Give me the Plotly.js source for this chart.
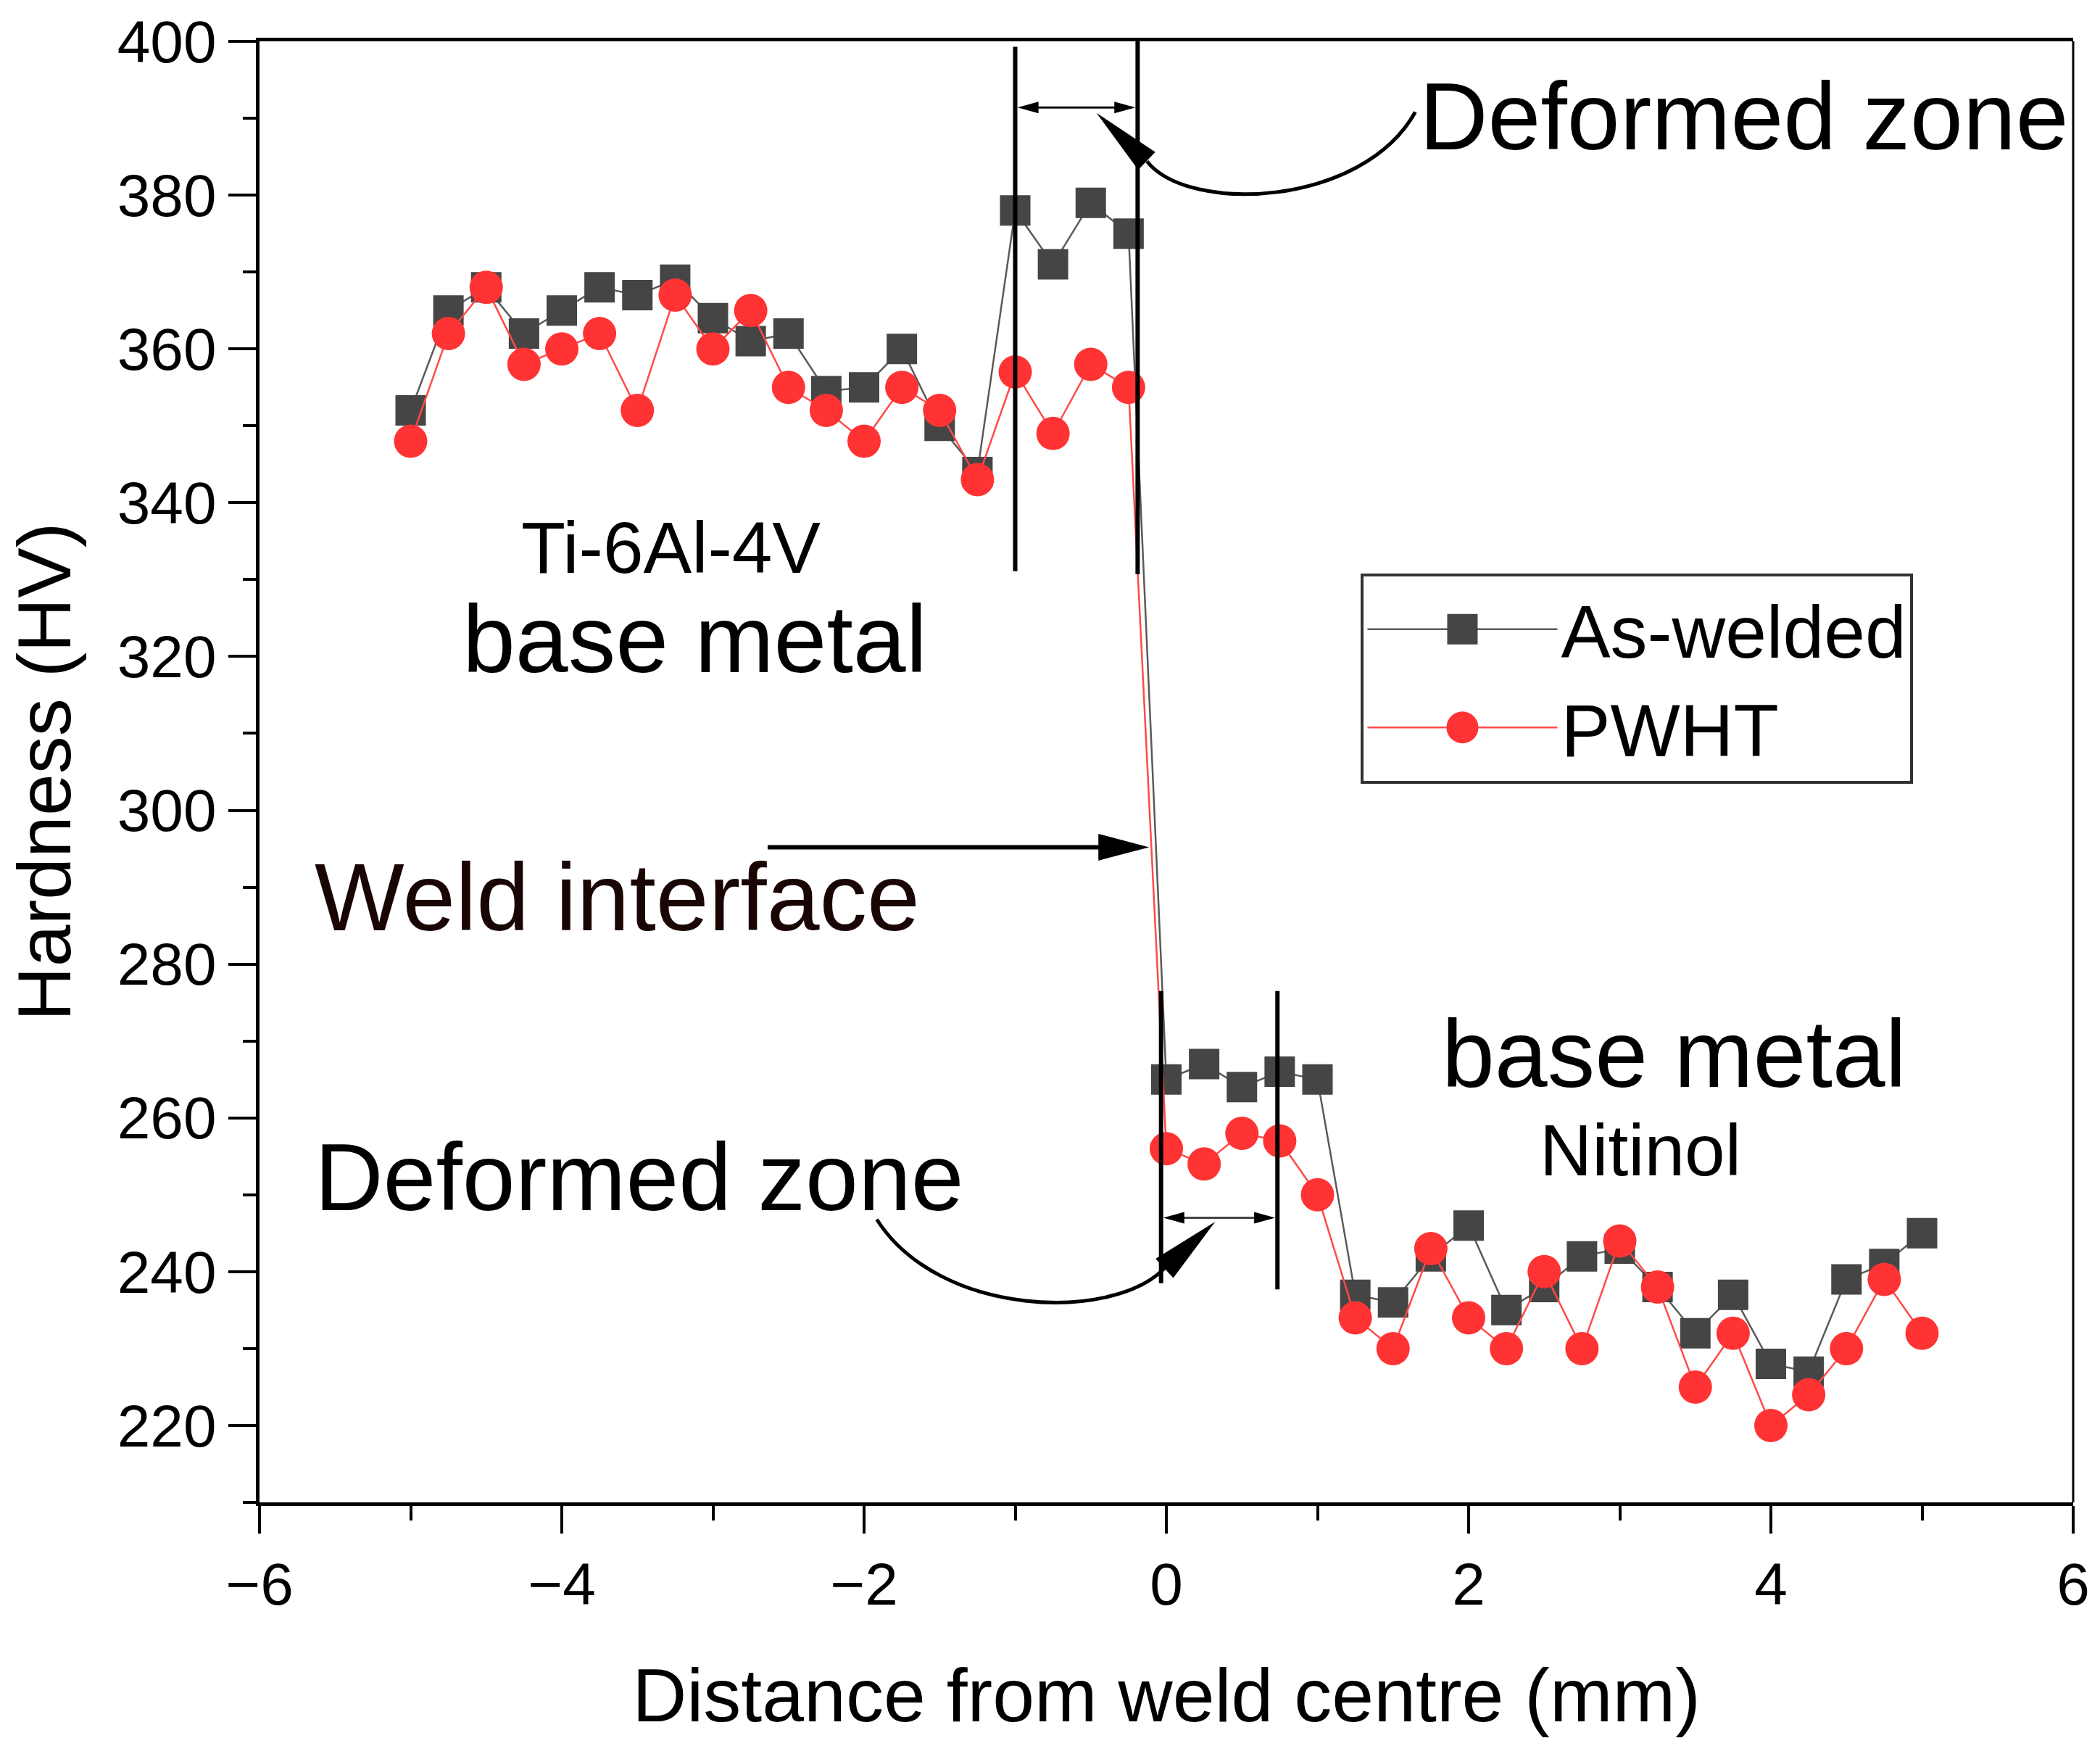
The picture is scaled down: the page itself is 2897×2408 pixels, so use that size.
<!DOCTYPE html>
<html>
<head>
<meta charset="utf-8">
<script src="https://cdn.plot.ly/plotly-3.0.1.min.js"></script>
<style>
html,body{margin:0;padding:0;background:#ffffff;}
#chart{width:2897px;height:2408px;}
</style>
</head>
<body>
<div id="chart"></div>
<script>
// ---------------- data ----------------
const distance = [-5, -4.75, -4.5, -4.25, -4, -3.75, -3.5, -3.25, -3, -2.75, -2.5, -2.25, -2, -1.75, -1.5, -1.25, -1, -0.75, -0.5, -0.25,
                  0, 0.25, 0.5, 0.75, 1, 1.25, 1.5, 1.75, 2, 2.25, 2.5, 2.75, 3, 3.25, 3.5, 3.75, 4, 4.25, 4.5, 4.75, 5];
const asWelded = [352, 365, 368, 362, 365, 368, 367, 369, 364, 361, 362, 354.5, 355, 360, 350, 344, 378, 371, 379, 375,
                  265, 267, 264, 266, 265, 237, 236, 242, 246, 235, 238, 242, 243, 238, 232, 237, 228, 227, 239, 241, 245];
const pwht     = [348, 362, 368, 358, 360, 362, 352, 367, 360, 365, 355, 352, 348, 355, 352, 343, 357, 349, 358, 355,
                  256, 254, 258, 257, 250, 234, 230, 243, 234, 230, 240, 230, 244, 238, 225, 232, 220, 224, 230, 239, 232];
const seriesNames = ["As-welded", "PWHT"];
const xTickVals = [-6, -4, -2, 0, 2, 4, 6];
const yTickVals = [220, 240, 260, 280, 300, 320, 340, 360, 380, 400];
const xTitle = "Distance from weld centre (mm)";
const yTitle = "Hardness (HV)";

// ---------------- layout geometry ----------------
const W = 2897, H = 2408;
const M = {l: 358, r: 37, t: 57, b: 336};
const xRange = [-6, 6], yRange = [210, 400];
const sx = (W - M.l - M.r) / (xRange[1] - xRange[0]);
const sy = (H - M.t - M.b) / (yRange[1] - yRange[0]);
const FONT = "Liberation Sans, Arial, sans-serif";

// arrowhead triangle (tip + direction from tail), size in px, expressed in data coords
function headPath(tip, tail, len, wid) {
  const dxp = (tip[0] - tail[0]) * sx, dyp = -(tip[1] - tail[1]) * sy;
  const L = Math.hypot(dxp, dyp), ux = dxp / L, uy = dyp / L;
  const bx = -len * ux, by = -len * uy, px = -uy, py = ux;
  const toD = (ox, oy) => (tip[0] + ox / sx) + "," + (tip[1] - oy / sy);
  return "M" + toD(0, 0) + " L" + toD(bx + px * wid / 2, by + py * wid / 2) +
         " L" + toD(bx - px * wid / 2, by - py * wid / 2) + " Z";
}
function head(tip, tail, len, wid, color) {
  return {type: "path", xref: "x", yref: "y", path: headPath(tip, tail, len, wid),
          fillcolor: color || "#000", line: {width: 0}, layer: "above"};
}
function vline(x, y0, y1, w, c) {
  return {type: "line", xref: "x", yref: "y", x0: x, x1: x, y0: y0, y1: y1,
          line: {color: c || "#000", width: w || 6}, layer: "above"};
}
function hline(x0, x1, y, w, c) {
  return {type: "line", xref: "x", yref: "y", x0: x0, x1: x1, y0: y, y1: y,
          line: {color: c || "#000", width: w || 3}, layer: "above"};
}

const shapes = [
  // zone boundary lines
  vline(-1.0, 399.3, 331.1), vline(-0.19, 400, 330.7),
  vline(-0.035, 276.5, 238.5), vline(0.735, 276.5, 237.7),
  // top double arrow
  hline(-0.95, -0.23, 391.4, 3, "#111"),
  head([-0.985, 391.4], [-0.5, 391.4], 29, 16), head([-0.205, 391.4], [-0.5, 391.4], 29, 16),
  // bottom double arrow
  hline(-0.0, 0.70, 247.0, 3, "#444"),
  head([-0.02, 247.0], [0.4, 247.0], 29, 16), head([0.72, 247.0], [0.4, 247.0], 29, 16),
  // weld interface arrow
  hline(-2.638, -0.40, 295.2, 6, "#000"),
  head([-0.114, 295.2], [-1.0, 295.2], 70, 37),
  // top curved arrow
  {type: "path", xref: "x", yref: "y", path: "M1.647,390.8 C1.3,378.5 0.15,377.5 -0.128,384.4",
   line: {color: "#000", width: 5}, layer: "above"},
  head([-0.462, 390.7], [-0.128, 384.4], 96, 34),
  // bottom curved arrow
  {type: "path", xref: "x", yref: "y", path: "M-1.916,246.8 C-1.5,234 -0.35,233.5 -0.012,240.45",
   line: {color: "#000", width: 5}, layer: "above"},
  head([0.323, 246.5], [-0.012, 240.45], 95, 36),
  // right frame line
  {type: "line", xref: "paper", yref: "paper", x0: 1, x1: 1, y0: 0, y1: 1,
   line: {color: "#000", width: 3}, layer: "above"}
];

function ann(text, x, y, size, color) {
  return {text: text, x: x, y: y, xref: "x", yref: "y", showarrow: false,
          xanchor: "center", yanchor: "middle", borderpad: 0, borderwidth: 0,
          font: {family: FONT, size: size, color: color || "#000"}};
}
const annotations = [
  ann("Deformed zone", 3.824, 390.2, 131),
  ann("Ti-6Al-4V", -3.280, 334.2, 100),
  ann("base metal", -3.122, 322.3, 131),
  ann("Weld interface", -3.635, 288.7, 131, "#1a0505"),
  ann("Deformed zone", -3.487, 252.3, 131),
  ann("base metal", 3.359, 268.3, 131),
  ann("Nitinol", 3.139, 255.8, 100)
];

const traces = [
  {x: distance, y: asWelded, name: seriesNames[0], type: "scatter", mode: "lines+markers",
   line: {color: "#5a5a5a", width: 2.5},
   marker: {symbol: "square", size: 42, color: "#454545"}},
  {x: distance, y: pwht, name: seriesNames[1], type: "scatter", mode: "lines+markers",
   line: {color: "#ff4a4a", width: 2.5},
   marker: {symbol: "circle", size: 46, color: "#ff3333"}}
];

const axisCommon = {
  showgrid: false, zeroline: false, showline: true, linecolor: "#000", linewidth: 5,
  ticks: "outside", ticklen: 38, tickwidth: 4, tickcolor: "#000",
  tickfont: {family: FONT, size: 82, color: "#000"}
};

const layout = {
  width: W, height: H, margin: M,
  paper_bgcolor: "#fff", plot_bgcolor: "#fff",
  font: {family: FONT, color: "#000"},
  showlegend: true,
  legend: {x: 0.6073, y: 0.6358, xanchor: "left", yanchor: "top",
           bordercolor: "#333", borderwidth: 4, bgcolor: "#fff",
           font: {family: FONT, size: 102, color: "#000"}, itemwidth: 262,
           tracegroupgap: 0},
  xaxis: Object.assign({}, axisCommon, {
    range: xRange, tickvals: xTickVals, mirror: true,
    minor: {dtick: 1, tick0: -5, ticks: "outside", ticklen: 20, tickwidth: 4, tickcolor: "#000"},
    title: {text: xTitle, font: {family: FONT, size: 104, color: "#000"}, standoff: 73}
  }),
  yaxis: Object.assign({}, axisCommon, {
    range: yRange, tickvals: yTickVals,
    minor: {dtick: 10, tick0: 210, ticks: "outside", ticklen: 18, tickwidth: 4, tickcolor: "#000"},
    title: {text: yTitle, font: {family: FONT, size: 104, color: "#000"}, standoff: 31}
  }),
  shapes: shapes,
  annotations: annotations
};

Plotly.newPlot("chart", traces, layout, {displayModeBar: false, staticPlot: true}).then(function () {
  // enlarge the legend symbols to the marker size used in the plot
  const targets = [42, 44];
  document.querySelectorAll(".legend .traces").forEach(function (tr, i) {
    tr.querySelectorAll("path.scatterpts").forEach(function (p) {
      const bb = p.getBBox();
      if (bb.width > 0) {
        const k = targets[i] / bb.width;
        p.setAttribute("transform", (p.getAttribute("transform") || "") + " scale(" + k + ")");
      }
    });
  });
});
</script>
</body>
</html>
